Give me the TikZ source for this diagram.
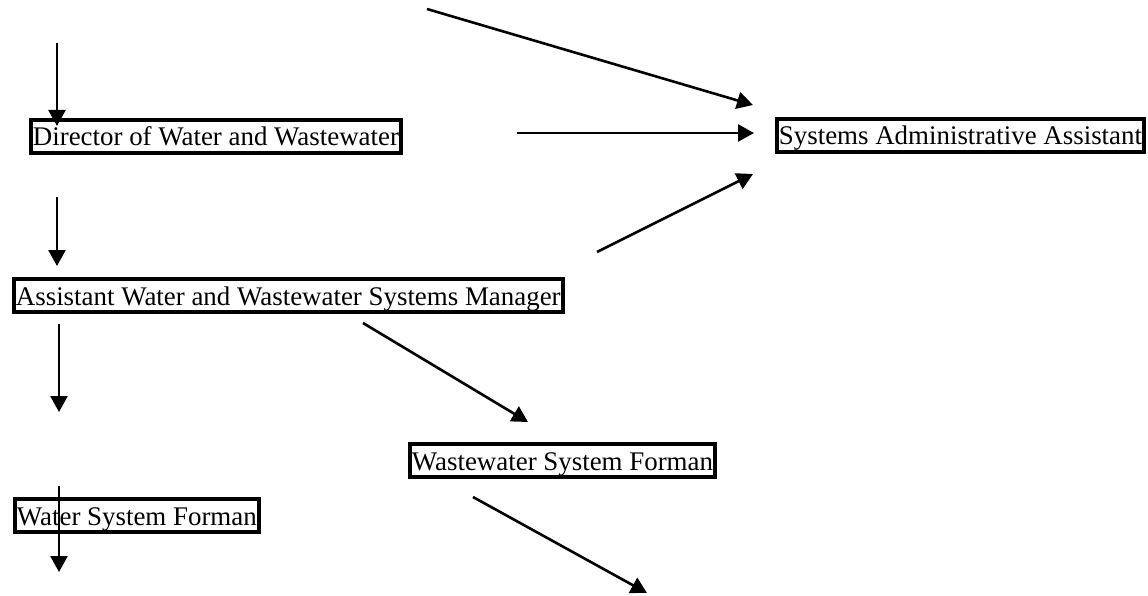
\documentclass[tikz,border=0pt]{standalone}
\usepackage{fontspec}
\setmainfont{Liberation Serif}
\usetikzlibrary{arrows.meta}

\begin{document}
\begin{tikzpicture}[
							x=1pt,
							y=-1pt,
							font=\fontsize{26.9}{30}\selectfont,
							post/.style={draw, line width=3.8pt, anchor=north west, inner xsep=2pt, inner ysep=0.1pt, text height=26pt, text depth=7pt},
							link/.style={line width=2.6pt, -{Triangle[length=16pt,width=17pt]}}
						]
						\useasboundingbox (0,0) rectangle (1148,596);

						% posts
						\node[post] (director) at (29,118) {Director of Water and Wastewater};
						\node[post] (admin) at (775,117) {Systems Administrative Assistant};
						\node[post] (assistant) at (12,277) {Assistant Water and Wastewater Systems Manager};
						\node[post] (wastewater) at (408,442) {Wastewater System Forman};
						\node[post] (water) at (13,497) {Water System Forman};

						% loose arrow ends
						\coordinate (in1) at (57,43);
						\coordinate (tip1) at (57,126);
						\coordinate (in2) at (57,197);
						\coordinate (tip2) at (57,266);
						\coordinate (in3) at (59,324);
						\coordinate (tip3) at (59,412);
						\coordinate (in4) at (59,486);
						\coordinate (tip4) at (59,572);
						\coordinate (in5) at (427,9);
						\coordinate (tip5) at (753,105);
						\coordinate (in6) at (517,133);
						\coordinate (tip6) at (754,133);
						\coordinate (in7) at (597,252);
						\coordinate (tip7) at (753,174);
						\coordinate (in8) at (363,323);
						\coordinate (tip8) at (528,422);
						\coordinate (in9) at (473,497);
						\coordinate (tip9) at (647,593);

						\draw[link] (in1) -- (tip1);
						\draw[link] (in2) -- (tip2);
						\draw[link] (in3) -- (tip3);
						\draw[link] (in4) -- (tip4);
						\draw[link] (in5) -- (tip5);
						\draw[link] (in6) -- (tip6);
						\draw[link] (in7) -- (tip7);
						\draw[link] (in8) -- (tip8);
						\draw[link] (in9) -- (tip9);
					\end{tikzpicture}
\end{document}
